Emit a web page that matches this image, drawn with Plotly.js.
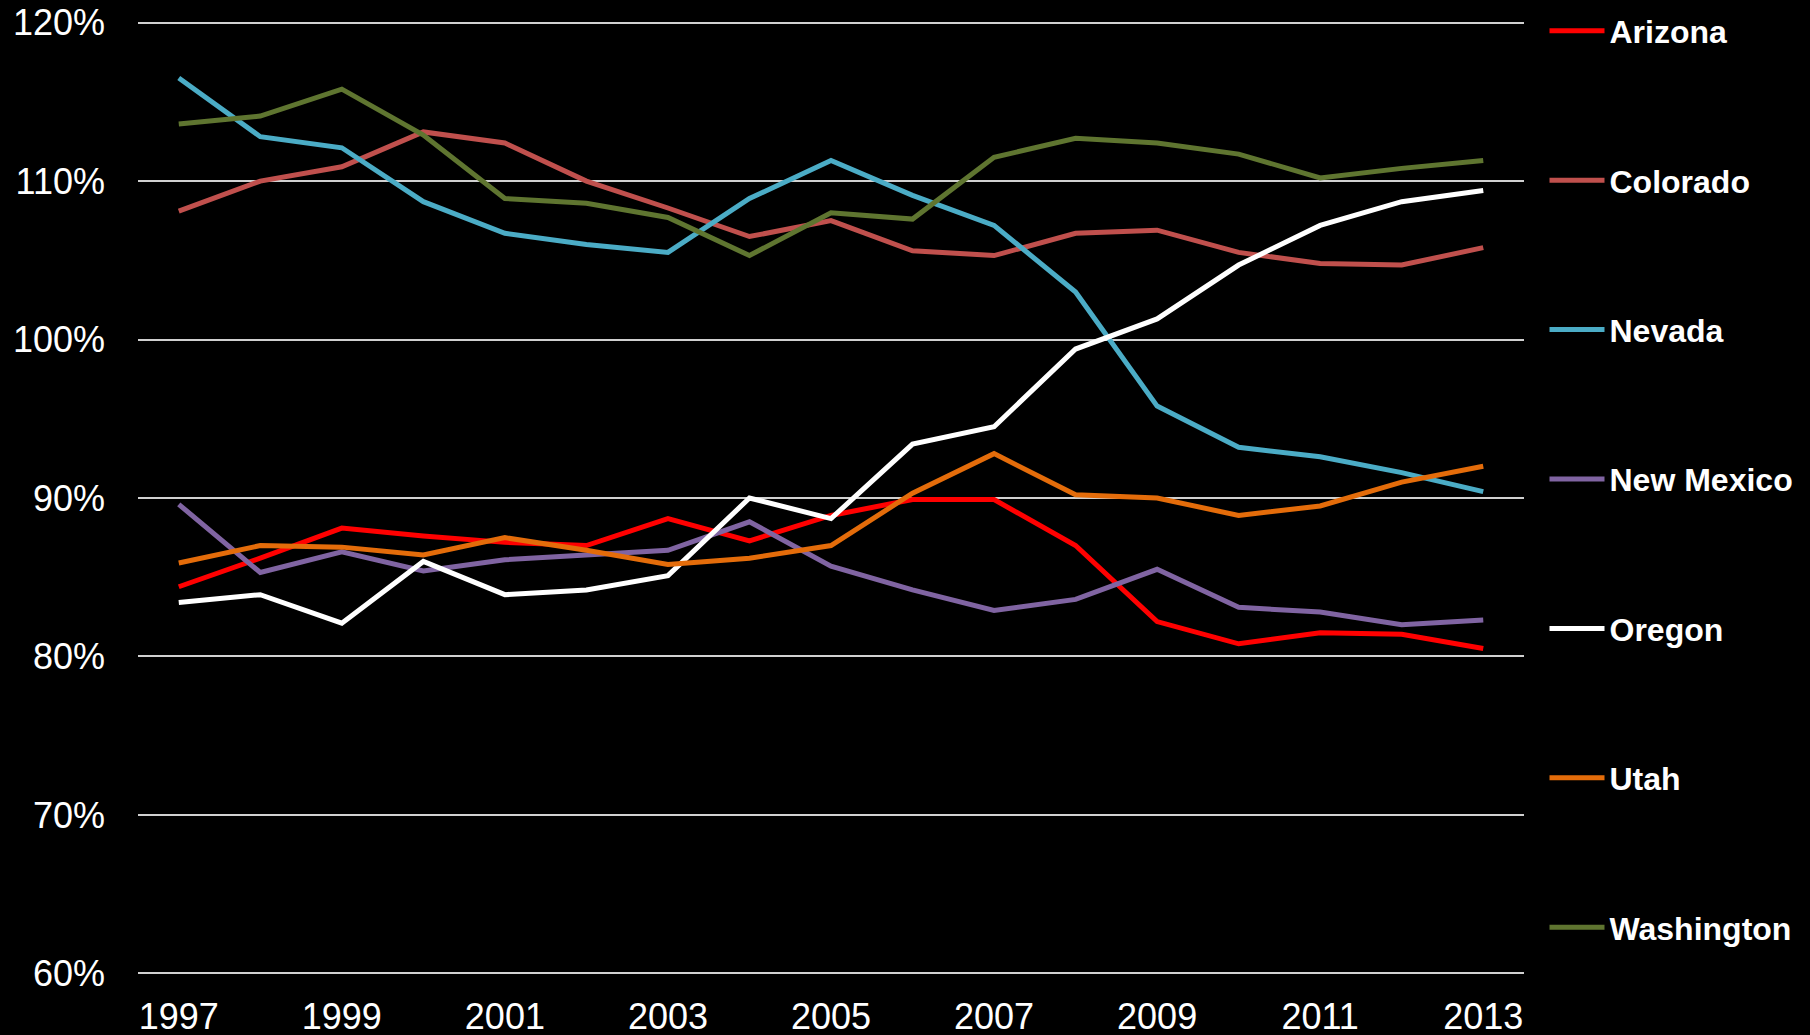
<!DOCTYPE html>
<html>
<head>
<meta charset="utf-8">
<script src="https://cdn.plot.ly/plotly-3.0.1.min.js"></script>
<style>html,body{margin:0;padding:0;background:#000;}#chart{width:1810px;height:1035px;}</style>
</head>
<body>
<div id="chart"></div>
<script>
const years = [1997,1998,1999,2000,2001,2002,2003,2004,2005,2006,2007,2008,2009,2010,2011,2012,2013];
const tickYears = [1997,1999,2001,2003,2005,2007,2009,2011,2013];

const arizona    = [84.4,86.2,88.1,87.6,87.2,87.0,88.7,87.3,88.9,89.9,89.9,87.0,82.2,80.8,81.5,81.4,80.5];
const colorado   = [108.1,110.0,110.9,113.1,112.4,110.0,108.3,106.5,107.5,105.6,105.3,106.7,106.9,105.5,104.8,104.7,105.8];
const nevada     = [116.5,112.8,112.1,108.7,106.7,106.0,105.5,108.9,111.3,109.1,107.2,103.0,95.8,93.2,92.6,91.6,90.4];
const newMexico  = [89.6,85.3,86.6,85.4,86.1,86.4,86.7,88.5,85.7,84.2,82.9,83.6,85.5,83.1,82.8,82.0,82.3];
const oregon     = [83.4,83.9,82.1,86.0,83.9,84.2,85.1,90.0,88.7,93.4,94.5,99.4,101.3,104.7,107.2,108.7,109.4];
const utah       = [85.9,87.0,86.9,86.4,87.5,86.7,85.8,86.2,87.0,90.3,92.8,90.2,90.0,88.9,89.5,91.0,92.0];
const washington = [113.6,114.1,115.8,112.9,108.9,108.6,107.7,105.3,108.0,107.6,111.5,112.7,112.4,111.7,110.2,110.8,111.3];

const seriesNames = ["Arizona","Colorado","Nevada","New Mexico","Oregon","Utah","Washington"];
const seriesData = [arizona, colorado, nevada, newMexico, oregon, utah, washington];
const seriesColors = ["#FF0000","#C0504D","#4BACC6","#8064A2","#FFFFFF","#E46C0A","#5F7530"];

const legendIds = seriesNames.map((n, i) => i === 0 ? "legend" : "legend" + (i + 1));

const traces = seriesNames.map((name, i) => ({
  type: "scatter",
  mode: "lines",
  name: name,
  x: years,
  y: seriesData[i],
  legend: legendIds[i],
  line: {color: seriesColors[i], width: 5}
}));

const tickFont = {family: "'Liberation Sans', Arial, sans-serif", size: 36, color: "#FFFFFF"};

const W = 1810, H = 1035;
const M = {l: 138, r: 286, t: 21, b: 60, autoexpand: false};

const layout = {
  width: W,
  height: H,
  paper_bgcolor: "#000000",
  plot_bgcolor: "#000000",
  margin: M,
  showlegend: true,
  xaxis: {
    type: "linear",
    range: [1996.5, 2013.5],
    tickvals: tickYears,
    ticktext: tickYears.map(String),
    showgrid: false,
    zeroline: false,
    showline: false,
    ticks: "",
    tickfont: tickFont,
    ticklabelstandoff: 17,
    automargin: false
  },
  yaxis: {
    range: [59.9, 120.1],
    tickvals: [60,70,80,90,100,110,120],
    ticktext: ["60%","70%","80%","90%","100%","110%","120%"],
    showgrid: true,
    gridcolor: "#D0D0D0",
    gridwidth: 2,
    zeroline: false,
    showline: false,
    ticks: "",
    tickfont: tickFont,
    ticklabelstandoff: 32,
    automargin: false
  }
};

// one legend box per series, stacked down the right side
const legendTop = 31, legendStep = 149.4;
legendIds.forEach((id, i) => {
  const py = legendTop + i * legendStep;
  layout[id] = {
    xref: "container", yref: "container",
    x: 1544.5 / W, xanchor: "left",
    y: (H - py) / H, yanchor: "middle",
    bgcolor: "rgba(0,0,0,0)",
    borderwidth: 0,
    font: {family: "'Liberation Sans', Arial, sans-serif", size: 32, color: "#FFFFFF", weight: "bold"},
    itemwidth: 55
  };
});

Plotly.newPlot("chart", traces, layout, {displayModeBar: false, staticPlot: true});
</script>
</body>
</html>
